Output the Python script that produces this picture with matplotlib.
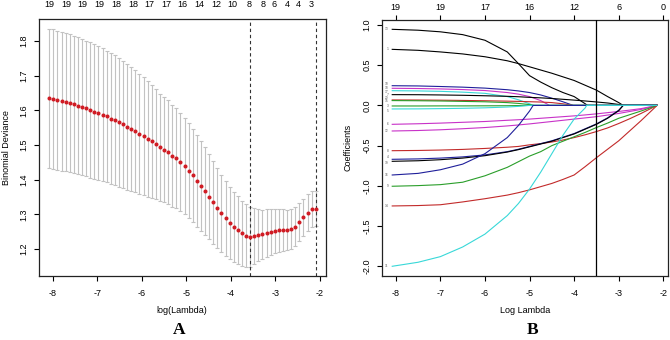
import matplotlib
matplotlib.use("Agg")
import matplotlib.pyplot as plt

plt.rcParams['font.family'] = ['Liberation Sans', 'DejaVu Sans']
plt.rcParams['axes.unicode_minus'] = False

# ---------------- panel A: cross-validated deviance ----------------
log_lambda = [-8.08, -7.99, -7.90, -7.80, -7.71, -7.62, -7.53, -7.44, -7.34, -7.25,
              -7.16, -7.07, -6.98, -6.88, -6.79, -6.70, -6.61, -6.52, -6.42, -6.33,
              -6.24, -6.15, -6.06, -5.96, -5.87, -5.78, -5.69, -5.60, -5.50, -5.41,
              -5.32, -5.23, -5.14, -5.04, -4.95, -4.86, -4.77, -4.68, -4.58, -4.49,
              -4.40, -4.31, -4.22, -4.12, -4.03, -3.94, -3.85, -3.76, -3.66, -3.57,
              -3.48, -3.39, -3.30, -3.20, -3.11, -3.02, -2.93, -2.84, -2.74, -2.65,
              -2.56, -2.47, -2.38, -2.28, -2.19, -2.10]
cv_mean = [1.634, 1.632, 1.629, 1.626, 1.623, 1.620, 1.617, 1.613, 1.609, 1.605,
           1.601, 1.596, 1.592, 1.587, 1.582, 1.576, 1.571, 1.565, 1.559, 1.552,
           1.546, 1.539, 1.532, 1.525, 1.516, 1.510, 1.503, 1.493, 1.486, 1.479,
           1.469, 1.461, 1.450, 1.439, 1.426, 1.413, 1.397, 1.382, 1.367, 1.351,
           1.334, 1.317, 1.303, 1.289, 1.276, 1.264, 1.255, 1.245, 1.238, 1.235,
           1.238, 1.240, 1.242, 1.246, 1.250, 1.252, 1.254, 1.254, 1.254, 1.257,
           1.264, 1.277, 1.291, 1.305, 1.315, 1.316]
cv_se = [0.201, 0.201, 0.200, 0.200, 0.199, 0.199, 0.198, 0.198, 0.197, 0.196,
         0.195, 0.194, 0.193, 0.192, 0.190, 0.189, 0.187, 0.185, 0.183, 0.181,
         0.179, 0.176, 0.173, 0.170, 0.167, 0.163, 0.158, 0.155, 0.152, 0.150,
         0.147, 0.144, 0.141, 0.138, 0.136, 0.134, 0.133, 0.130, 0.127, 0.122,
         0.119, 0.115, 0.111, 0.108, 0.104, 0.101, 0.097, 0.094, 0.091, 0.087,
         0.080, 0.075, 0.071, 0.068, 0.066, 0.064, 0.062, 0.060, 0.058, 0.057,
         0.056, 0.055, 0.054, 0.053, 0.052, 0.051]
lambda_min = -3.57
lambda_1se = -2.10

top_a_pos = [-8.08, -7.70, -7.33, -6.95, -6.58, -6.20, -5.83, -5.45, -5.08, -4.71,
             -4.33, -3.96, -3.60, -3.27, -3.04, -2.74, -2.48, -2.20]
top_a_lab = ['19', '19', '19', '19', '18', '18', '17', '17', '16', '14',
             '12', '10', '8', '8', '6', '4', '4', '3']

# ---------------- panel B: coefficient paths ----------------
grid_b = [-8.08, -7.5, -7.0, -6.5, -6.0, -5.5, -5.25, -5.0, -4.75, -4.5,
          -4.25, -4.0, -3.75, -3.5, -3.25, -3.0, -2.75, -2.5, -2.14]
path_names = ['13', '1', '10', '18', '17', '7', '20', '15', '3', '5',
              '6', '12', '8', '4', '19', '16', '9', '14', '11']
path_colors = ['black', 'black', '#1f1f9a', '#c832c8', '#38d8d8', 'black', '#c22a2a', '#2a9e2a',
               '#2a9e2a', '#38d8d8', '#c832c8', '#c832c8', '#c22a2a', '#1f1f9a', 'black',
               '#1f1f9a', '#2a9e2a', '#c22a2a', '#38d8d8']
# log lambda at which each coefficient becomes zero
path_drop = [-3.70, -2.90, -4.02, -4.55, -4.92, -2.90, -4.02, -4.90, -5.00, -5.00,
             -2.14, -2.14, -2.14, -2.90, -2.90, -4.92, -2.14, -2.14, -3.72]
path_13 = [0.946, 0.935, 0.915, 0.88, 0.81, 0.665, 0.52, 0.37, 0.29, 0.22, 0.16, 0.11, 0.02]
path_1 = [0.697, 0.685, 0.665, 0.64, 0.605, 0.555, 0.52, 0.48, 0.44, 0.40, 0.355, 0.31,
          0.25, 0.19, 0.11, 0.035]
path_10 = [0.245, 0.242, 0.235, 0.227, 0.215, 0.195, 0.18, 0.16, 0.13, 0.09, 0.045]
path_18 = [0.213, 0.21, 0.205, 0.197, 0.185, 0.16, 0.14, 0.11, 0.06]
path_17 = [0.183, 0.18, 0.175, 0.165, 0.15, 0.11, 0.07, 0.02]
path_7 = [0.134, 0.133, 0.13, 0.126, 0.12, 0.113, 0.108, 0.10, 0.094, 0.086, 0.076, 0.066,
          0.055, 0.043, 0.03, 0.012]
path_20 = [0.068, 0.067, 0.065, 0.062, 0.058, 0.053, 0.05, 0.046, 0.042, 0.035, 0.02]
path_15 = [0.06, 0.058, 0.055, 0.05, 0.045, 0.035, 0.025, 0.01]
path_3 = [-0.007, -0.007, -0.006, -0.006, -0.005, -0.004, -0.002]
path_5 = [-0.044, -0.043, -0.04, -0.036, -0.03, -0.02, -0.012]
path_6 = [-0.235, -0.228, -0.22, -0.21, -0.20, -0.185, -0.178, -0.17, -0.16, -0.15, -0.14,
          -0.13, -0.118, -0.105, -0.09, -0.075, -0.058, -0.04]
path_12 = [-0.318, -0.312, -0.303, -0.29, -0.275, -0.255, -0.243, -0.23, -0.215, -0.20,
           -0.185, -0.17, -0.155, -0.14, -0.12, -0.10, -0.075, -0.05]
path_8 = [-0.563, -0.56, -0.555, -0.547, -0.535, -0.52, -0.51, -0.49, -0.475, -0.455,
          -0.43, -0.40, -0.365, -0.325, -0.28, -0.225, -0.165, -0.10]
path_4 = [-0.67, -0.665, -0.655, -0.64, -0.615, -0.575, -0.545, -0.51, -0.475, -0.44,
          -0.395, -0.35, -0.29, -0.23, -0.155, -0.06]
path_19 = [-0.695, -0.688, -0.675, -0.655, -0.625, -0.58, -0.55, -0.515, -0.48, -0.445,
           -0.40, -0.355, -0.295, -0.235, -0.16, -0.065]
path_16 = [-0.865, -0.845, -0.80, -0.73, -0.60, -0.40, -0.25, -0.07]
path_9 = [-1.005, -0.997, -0.985, -0.955, -0.875, -0.77, -0.70, -0.63, -0.575, -0.50,
          -0.445, -0.39, -0.335, -0.275, -0.22, -0.16, -0.115, -0.07]
path_14 = [-1.25, -1.245, -1.235, -1.20, -1.16, -1.115, -1.085, -1.05, -1.01, -0.97,
           -0.92, -0.865, -0.76, -0.65, -0.545, -0.44, -0.315, -0.19]
path_11 = [-2.0, -1.95, -1.88, -1.76, -1.60, -1.37, -1.22, -1.04, -0.83, -0.60, -0.37,
           -0.17, -0.03]
path_values = [path_13, path_1, path_10, path_18, path_17, path_7, path_20, path_15, path_3,
               path_5, path_6, path_12, path_8, path_4, path_19, path_16, path_9, path_14,
               path_11]
lambda_sel = -3.51
top_b_pos = [-8, -7, -6, -5, -4, -3, -2]
top_b_lab = ['19', '19', '17', '16', '12', '6', '0']

# small vertical nudges (points) so the tiny variable labels don't sit on top of each other
label_nudge = {'10': 1.2, '18': 0.3, '17': -0.8, '20': 1.6, '15': -0.6, '3': -0.2,
               '5': -1.4, '4': 1.3, '19': -1.3}

# ---------------- figure ----------------
fig = plt.figure(figsize=(6.7, 3.4), dpi=100)
axA = fig.add_axes([0.0582, 0.1882, 0.4284, 0.7559])
axB = fig.add_axes([0.5701, 0.1882, 0.4269, 0.7530])

# panel A
axA.errorbar(log_lambda, cv_mean, yerr=cv_se, fmt='none', ecolor='#c2c2c2',
             elinewidth=0.8, capsize=1.6, capthick=0.8, zorder=1)
axA.plot(log_lambda, cv_mean, 'o', color='#d01c24', ms=2.9, mec='none', zorder=3)
for xv in (lambda_min, lambda_1se):
    axA.axvline(xv, color='#333333', lw=0.8, ls=(0, (3, 2.5)), zorder=2)
axA.set_xlim(-8.31, -1.865)
axA.set_ylim(1.122, 1.863)
axA.set_xticks([-8, -7, -6, -5, -4, -3, -2])
axA.set_yticks([1.2, 1.3, 1.4, 1.5, 1.6, 1.7, 1.8])
topA = axA.secondary_xaxis('top')
topA.set_xticks(top_a_pos, labels=top_a_lab)
topA.tick_params(length=0, pad=7.5, labelsize=6.5)

# panel B
for vals, drop, col, name in zip(path_values, path_drop, path_colors, path_names):
    xs = grid_b[:len(vals)] + [drop]
    ys = list(vals) + [0.0]
    if drop < grid_b[-1]:
        xs.append(grid_b[-1])
        ys.append(0.0)
    axB.plot(xs, ys, color=col, lw=0.8, zorder=2)
    axB.annotate(name, (grid_b[0] - 0.08, vals[0]), xytext=(0, label_nudge.get(name, 0)),
                 textcoords='offset points', fontsize=2.3, color='#555555',
                 ha='right', va='center')
axB.axvline(lambda_sel, color='black', lw=0.9, zorder=3)
axB.set_xlim(-8.31, -1.895)
axB.set_ylim(-2.121, 1.062)
axB.set_xticks([-8, -7, -6, -5, -4, -3, -2])
axB.set_yticks([-2.0, -1.5, -1.0, -0.5, 0.0, 0.5, 1.0])
axB.set_yticklabels(['-2.0', '-1.5', '-1.0', '-0.5', '0.0', '0.5', '1.0'])
topB = axB.secondary_xaxis('top')
topB.set_xticks(top_b_pos, labels=top_b_lab)
topB.tick_params(length=3.5, width=0.8, pad=2.5, labelsize=6.5)

for ax in (axA, axB):
    ax.tick_params(axis='both', direction='out', length=3.5, width=0.8, labelsize=6.5)
    ax.tick_params(axis='x', pad=6)
    ax.tick_params(axis='y', pad=4, labelrotation=90)
    for lab in ax.get_yticklabels():
        lab.set_va('center')
    for sp in ax.spines.values():
        sp.set_linewidth(0.9)
        sp.set_color('#222222')
topA.spines['top'].set_visible(False)
topB.spines['top'].set_visible(False)

fig.text(0.2716, 0.0853, 'log(Lambda)', ha='center', va='center', fontsize=6.5)
fig.text(0.7836, 0.0853, 'Log Lambda', ha='center', va='center', fontsize=6.5)
fig.text(0.009, 0.566, 'Binomial Deviance', ha='center', va='center', rotation=90, fontsize=6.5)
fig.text(0.519, 0.566, 'Coefficients', ha='center', va='center', rotation=90, fontsize=6.5)
fig.text(0.2670, 0.030, 'A', ha='center', va='center', fontsize=12.5, fontweight='bold',
         family=['Liberation Serif', 'DejaVu Serif'])
fig.text(0.7955, 0.030, 'B', ha='center', va='center', fontsize=12.5, fontweight='bold',
         family=['Liberation Serif', 'DejaVu Serif'])

fig.savefig('out.png', dpi=100)
